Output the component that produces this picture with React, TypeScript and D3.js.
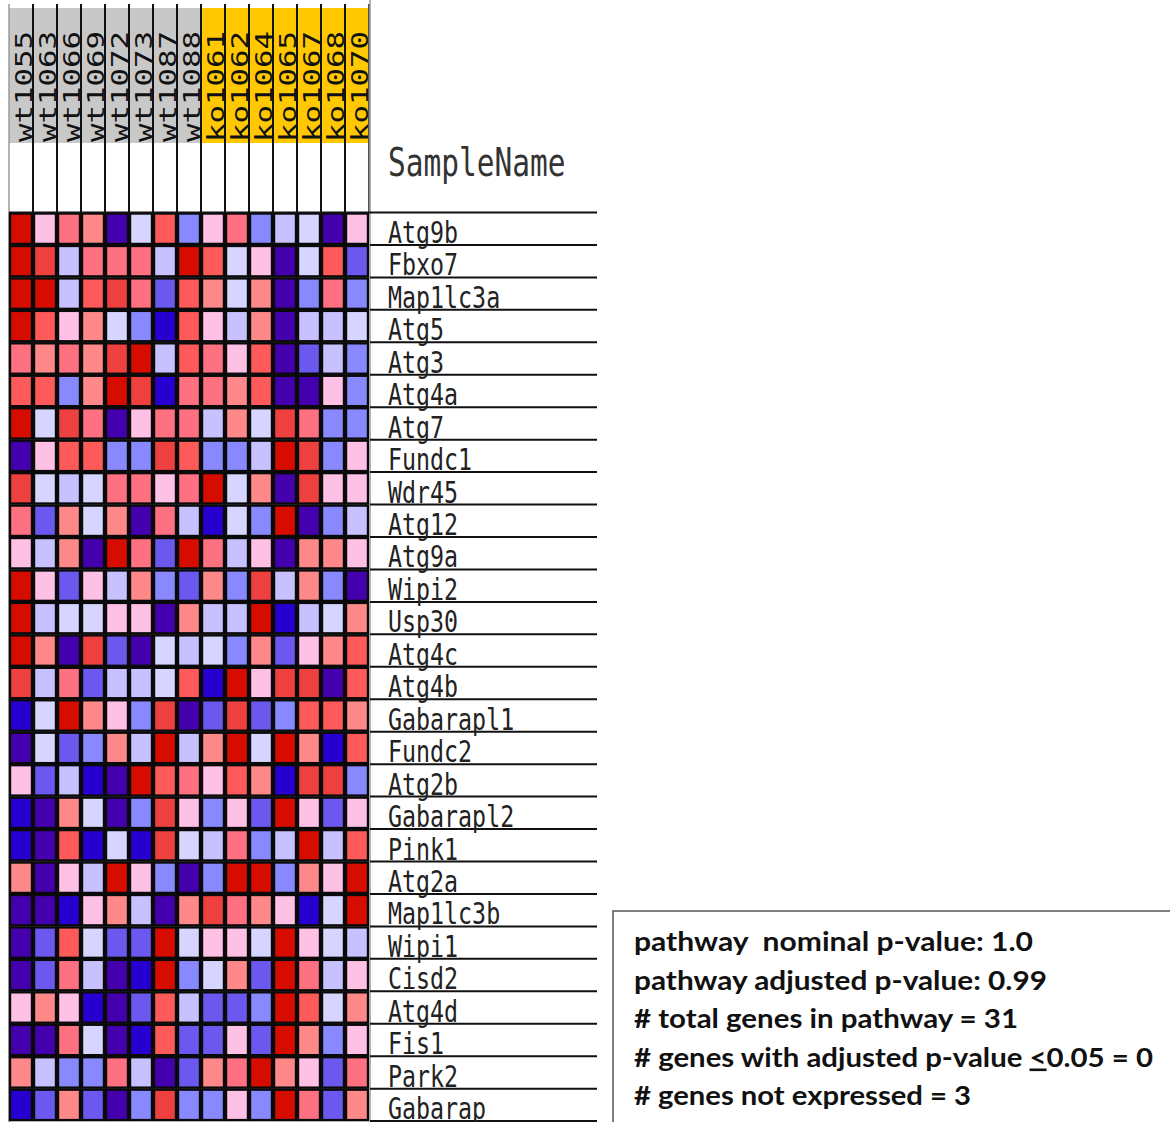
import React from "react";
import * as d3 from "d3";

// Samples and their groups
const samples = [
  "wt1055", "wt1063", "wt1066", "wt1069", "wt1072", "wt1073", "wt1087", "wt1088",
  "ko1061", "ko1062", "ko1064", "ko1065", "ko1067", "ko1068", "ko1070",
];
const sampleGroups = [
  "wt", "wt", "wt", "wt", "wt", "wt", "wt", "wt",
  "ko", "ko", "ko", "ko", "ko", "ko", "ko",
];

// Genes (rows, top to bottom)
const genes = [
  "Atg9b", "Fbxo7", "Map1lc3a", "Atg5", "Atg3", "Atg4a", "Atg7", "Fundc1",
  "Wdr45", "Atg12", "Atg9a", "Wipi2", "Usp30", "Atg4c", "Atg4b", "Gabarapl1",
  "Fundc2", "Atg2b", "Gabarapl2", "Pink1", "Atg2a", "Map1lc3b", "Wipi1", "Cisd2",
  "Atg4d", "Fis1", "Park2", "Gabarap",
];

// Row-standardised expression (z-scores), one row per gene, one column per sample
const expression: number[][] = [
  [2.8, 0.2, 1.2, 0.8, -2.8, -0.2, 1.8, -1.2, 0.2, 1.2, -1.2, -0.8, -0.2, -2.8, 0.2],
  [2.8, 2.2, -0.8, 1.2, 1.2, 1.2, -0.8, 2.8, 1.8, -0.2, 0.2, -2.8, -0.2, 1.8, -1.8],
  [2.8, 2.8, -0.8, 1.8, 2.2, 1.2, -1.8, 1.8, 0.8, -0.2, 0.8, -2.8, -1.2, 1.2, -1.2],
  [2.8, 1.8, 0.2, 0.8, -0.2, -1.2, -2.2, 1.8, 0.2, -0.8, 0.8, -2.8, -0.8, -0.8, -0.2],
  [1.2, 0.8, 1.2, 0.8, 2.2, 2.8, -0.8, 1.8, 1.2, 0.2, 1.8, -2.8, -1.8, -0.8, -1.2],
  [1.8, 1.8, -1.2, 0.8, 2.8, 2.2, -2.2, 1.2, 1.2, 0.8, 1.8, -2.8, -2.8, 0.2, -1.2],
  [2.8, -0.2, 2.2, 1.2, -2.8, 0.2, 1.2, 1.2, -0.8, 0.8, -0.2, 2.2, 1.2, -1.2, -1.2],
  [-2.8, 0.2, 1.8, 1.8, -1.2, -1.2, 2.2, 1.8, -1.2, -1.2, -0.8, 2.8, 2.2, -1.2, 0.2],
  [2.2, -0.2, -0.8, -0.2, 1.2, 1.2, 0.2, 1.2, 2.8, -0.2, 0.8, -2.8, 2.2, 0.2, 0.2],
  [1.2, -1.8, 0.8, -0.2, 0.8, -2.8, 1.2, -0.8, -2.2, -0.2, -1.2, 2.8, -2.8, -1.2, -0.8],
  [0.2, -0.8, 0.8, -2.8, 2.8, 1.2, -1.8, 2.8, 1.2, -0.8, 0.2, -2.8, 0.8, 0.8, 0.2],
  [2.8, 0.2, -1.8, 0.2, -0.8, 0.8, -1.2, -1.8, 0.8, -1.2, 2.2, -0.8, 0.8, -1.2, -2.8],
  [2.8, -0.8, -0.2, -0.2, 0.2, 0.2, -2.8, 0.8, -0.8, -0.8, 2.8, -2.2, -0.8, -0.2, 0.8],
  [2.8, 0.8, -2.8, 2.2, -1.8, -2.8, -0.2, -0.8, -0.2, -1.2, 0.8, -1.8, 0.2, 0.8, 1.8],
  [2.2, -0.8, 1.2, -1.8, -0.8, -0.8, -0.2, 1.8, -2.2, 2.8, 0.2, 2.2, 2.2, -2.8, 1.8],
  [-2.2, -0.2, 2.8, 0.8, 0.2, -1.2, 2.2, -2.8, -1.8, 2.2, -1.8, -1.2, 1.8, 1.8, 0.8],
  [-2.8, -0.2, -1.8, -1.2, 0.8, -0.8, 2.8, -0.8, 0.8, 2.8, -0.2, 2.8, 0.8, -2.2, 1.8],
  [0.2, -1.8, -0.8, -2.2, -2.8, 2.8, 1.8, 1.2, 0.2, 1.8, 0.8, -2.2, 2.2, 2.2, -1.2],
  [-2.2, -2.8, 0.8, -0.2, -2.8, -1.2, 2.2, 0.2, -1.2, 0.2, -1.8, 2.8, 0.2, -1.8, 0.2],
  [-2.2, -2.8, 1.8, -2.2, -0.2, -2.2, 2.2, -0.2, -0.8, 1.2, -1.2, -0.8, 2.8, -0.8, 1.8],
  [0.8, -2.8, 0.2, -0.8, 2.8, 0.2, -1.2, -2.8, -1.2, 2.8, 2.8, -1.2, 0.8, 0.2, 2.8],
  [-2.8, -2.8, -2.2, 0.2, 0.8, -0.8, -2.8, 0.8, 2.2, 1.2, 0.8, 0.2, -2.2, -0.2, 2.8],
  [-2.8, -1.8, 1.8, -0.2, -1.8, -1.8, 2.8, -0.2, 0.2, 0.2, -0.2, 2.8, 0.2, -0.2, -0.8],
  [-2.8, -1.8, 1.2, -0.8, -2.8, -2.2, 2.8, -1.2, -0.2, 0.8, -1.8, 2.8, 1.2, -0.8, 0.2],
  [0.2, 0.8, 0.2, -2.2, -2.8, -1.8, 1.8, -0.8, -1.8, -1.8, -1.2, 2.8, 1.8, -0.2, 0.8],
  [-2.8, -2.8, 1.2, -0.2, -2.8, -2.2, 1.8, -1.8, -1.8, 0.2, -1.8, 2.8, 0.8, -1.2, 0.2],
  [0.8, -0.8, -1.2, -1.2, 1.2, -0.8, -2.8, -1.8, 0.8, 1.2, 2.8, 0.8, 0.2, -1.8, 1.2],
  [-2.2, -1.8, 0.8, -1.8, -2.8, -1.2, 2.2, -1.2, -1.2, 0.2, -1.2, 2.8, 1.2, -1.8, 0.8],
];

// Twelve-step blue-to-red palette
const heatColors = [
  "#4500AD", "#2700D1", "#6B58EF", "#8888FF", "#C7C1FF", "#D5D5FF",
  "#FFC0E5", "#FF8989", "#FF7080", "#FF5A5A", "#EF4040", "#D60C00",
];

const groupColors: Record<string, string> = { wt: "#C8C8C8", ko: "#FFC800" };

// Summary statistics shown in the box
const statLines = [
  "pathway  nominal p-value: 1.0",
  "pathway adjusted p-value: 0.99",
  "# total genes in pathway = 31",
  "# genes with adjusted p-value ",
  "# genes not expressed = 3",
];

const W = 1170;
const H = 1122;

export default function App() {
  const gridLeft = 9;
  const gridRight = 369;
  const gridTop = 212.5;
  const rowH = 32.45;
  const labelRight = 597;
  const headerTop = 8;
  const headerBottom = 143;
  const lineTop = 4;
  const stretch = 1.32;

  const x = d3.scaleBand<string>().domain(samples).range([gridLeft, gridRight]);
  const y = d3
    .scaleBand<string>()
    .domain(genes)
    .range([gridTop, gridTop + rowH * genes.length]);
  const color = d3.scaleQuantize<string>().domain([-3, 3]).range(heatColors);

  const cw = x.bandwidth();
  const ch = y.bandwidth();
  const mono = "'DejaVu Sans Mono', 'Liberation Mono', monospace";

  const statX = 634;
  const statBase = 951;
  const statStep = 38.5;
  const statWidths = [399, 413, 384, 519, 337];

  return (
    <div style={{ position: "absolute", left: 0, top: 0 }}>
      <svg width={W} height={H} style={{ display: "block", background: "#fff" }}>
        {/* group colour strip behind sample names */}
        {samples.map((s, i) => (
          <rect
            key={"g" + s}
            x={x(s)!}
            y={headerTop}
            width={cw}
            height={headerBottom - headerTop}
            fill={groupColors[sampleGroups[i]]}
          />
        ))}

        {/* sample names */}
        {samples.map((s) => (
          <text
            key={"t" + s}
            transform={`translate(${x(s)! + cw - 1.5},${142}) scale(1,${stretch}) rotate(-90)`}
            fontFamily={mono}
            fontSize={23.3}
            fill="#111"
          >
            {s}
          </text>
        ))}

        {/* column separators in the header */}
        {samples.map((s, i) => (
          <line
            key={"v" + s}
            x1={x(s)! + cw}
            x2={x(s)! + cw}
            y1={lineTop}
            y2={gridTop}
            stroke={i === samples.length - 1 ? "#555" : "#111"}
            strokeWidth={2}
          />
        ))}
        <line x1={gridLeft} x2={gridLeft} y1={lineTop} y2={H} stroke="#9a9a9a" strokeWidth={1.5} />

        {/* heat map cells */}
        {genes.map((g, r) =>
          samples.map((s, c) => (
            <rect
              key={g + s}
              x={x(s)! + 1}
              y={y(g)! + 1}
              width={cw - 2}
              height={ch - 2}
              fill={color(expression[r][c])}
              stroke="#0a0a0a"
              strokeWidth={2.4}
            />
          ))
        )}

        {/* gene label area */}
        <line x1={gridRight + 1} x2={gridRight + 1} y1={0} y2={H} stroke="#9a9a9a" strokeWidth={1.5} />
        <line x1={gridLeft} x2={labelRight} y1={gridTop} y2={gridTop} stroke="#111" strokeWidth={2} />
        {genes.map((g) => (
          <line
            key={"l" + g}
            x1={gridRight + 1}
            x2={labelRight}
            y1={y(g)! + ch}
            y2={y(g)! + ch}
            stroke="#111"
            strokeWidth={2}
          />
        ))}
        {genes.map((g) => (
          <text
            key={"n" + g}
            transform={`translate(388,${y(g)! + ch - 2}) scale(1,${stretch})`}
            fontFamily={mono}
            fontSize={23.3}
            fill="#222"
          >
            {g}
          </text>
        ))}
        <text
          transform={`translate(388,176) scale(1,${stretch})`}
          fontFamily={mono}
          fontSize={29.5}
          fill="#333"
        >
          SampleName
        </text>

        {/* summary box */}
        <rect x={613} y={911} width={620} height={260} fill="#fff" stroke="#555" strokeWidth={1.5} />
        {statLines.map((t, i) => (
          <text
            key={"s" + i}
            x={statX}
            y={statBase + i * statStep}
            fontFamily="Lato, 'Open Sans', sans-serif"
            fontWeight={700}
            fontSize={26}
            fill="#111"
            textLength={statWidths[i]}
            lengthAdjust="spacingAndGlyphs"
            style={{ whiteSpace: "pre" }}
          >
            {t}
            {i === 3 ? (
              <>
                <tspan textDecoration="underline">&lt;</tspan>
                <tspan>0.05 = 0</tspan>
              </>
            ) : null}
          </text>
        ))}
      </svg>
    </div>
  );
}
